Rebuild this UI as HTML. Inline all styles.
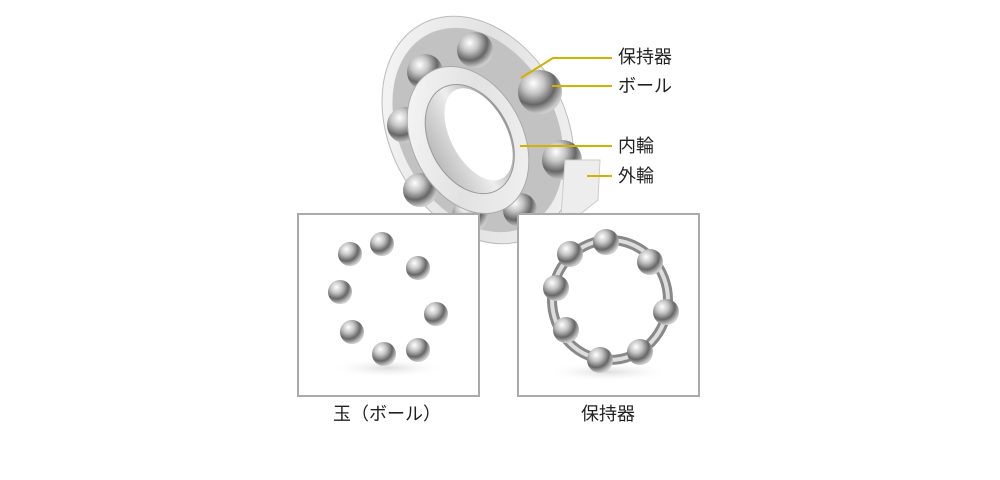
<!DOCTYPE html>
<html><head><meta charset="utf-8"><style>
body{margin:0;width:1000px;height:480px;background:#fff;overflow:hidden;position:relative;font-family:"Liberation Sans","Noto Sans CJK JP",sans-serif}
.t{position:absolute;font-size:18px;color:#222;line-height:1}
</style></head><body>
<svg width="1000" height="480" style="position:absolute;left:0;top:0">
<defs>
<radialGradient id="ball" cx="35%" cy="30%" r="70%"><stop offset="0" stop-color="#fff"/><stop offset="0.35" stop-color="#c4c4c4"/><stop offset="0.7" stop-color="#666"/><stop offset="1" stop-color="#ccc"/></radialGradient>
<linearGradient id="ring" x1="0" y1="0" x2="1" y2="1"><stop offset="0" stop-color="#fafafa"/><stop offset="0.5" stop-color="#e2e2e2"/><stop offset="1" stop-color="#f4f4f4"/></linearGradient>
<linearGradient id="bore" x1="0" y1="0" x2="1" y2="0"><stop offset="0" stop-color="#bbb"/><stop offset="0.5" stop-color="#eee"/><stop offset="1" stop-color="#999"/></linearGradient>
<radialGradient id="shadow" cx="50%" cy="50%" r="50%"><stop offset="0" stop-color="#ddd"/><stop offset="1" stop-color="#fff" stop-opacity="0"/></radialGradient>
</defs>
<g transform="rotate(-28 478 130)">
<ellipse cx="478" cy="130" rx="88" ry="120" fill="url(#ring)" stroke="#bbb"/>
<ellipse cx="478" cy="130" rx="78" ry="108" fill="#c2c2c2"/>
</g>
<g fill="url(#ball)">
<circle cx="475" cy="50" r="18"/><circle cx="425" cy="72" r="18"/><circle cx="405" cy="125" r="18"/>
<circle cx="420" cy="190" r="17"/><circle cx="470" cy="215" r="18"/><circle cx="520" cy="210" r="17"/>
<circle cx="540" cy="92" r="22"/><circle cx="562" cy="160" r="20"/>
</g>
<g transform="rotate(-28 468 140)">
<ellipse cx="468" cy="140" rx="55" ry="78" fill="url(#ring)" stroke="#aaa"/>
<ellipse cx="470" cy="140" rx="40" ry="58" fill="url(#bore)" stroke="#999"/>
<ellipse cx="480" cy="140" rx="28" ry="50" fill="#fff"/>
</g>
<path d="M565 160 L600 160 L598 200 L560 230 Z" fill="#ededed" stroke="#ccc"/>
<g stroke="#d4b000" stroke-width="2" fill="none">
<polyline points="521,78 553,58 612,58"/>
<line x1="552" y1="86" x2="612" y2="86"/>
<line x1="520" y1="146" x2="612" y2="146"/>
<line x1="587" y1="176" x2="612" y2="176"/>
</g>
<rect x="298" y="214" width="181" height="182" fill="#fff" stroke="#aaa" stroke-width="2"/>
<rect x="518" y="214" width="181" height="182" fill="#fff" stroke="#aaa" stroke-width="2"/>
<ellipse cx="388" cy="368" rx="60" ry="10" fill="url(#shadow)"/>
<g fill="url(#ball)">
<circle cx="350" cy="254" r="12"/><circle cx="382" cy="244" r="12"/><circle cx="418" cy="268" r="12"/>
<circle cx="340" cy="292" r="12"/><circle cx="436" cy="314" r="12"/><circle cx="352" cy="332" r="12"/>
<circle cx="384" cy="354" r="12"/><circle cx="418" cy="350" r="12"/>
</g>
<ellipse cx="608" cy="372" rx="65" ry="10" fill="url(#shadow)"/>
<ellipse cx="610" cy="300" rx="58" ry="60" fill="none" stroke="#888" stroke-width="10"/>
<ellipse cx="610" cy="300" rx="58" ry="60" fill="none" stroke="#ddd" stroke-width="4"/>
<g fill="url(#ball)">
<circle cx="606" cy="242" r="13"/><circle cx="650" cy="262" r="13"/><circle cx="666" cy="312" r="13"/>
<circle cx="640" cy="352" r="13"/><circle cx="600" cy="360" r="13"/><circle cx="566" cy="330" r="13"/>
<circle cx="556" cy="288" r="13"/><circle cx="570" cy="254" r="13"/>
</g>
</svg>
<div class="t" style="left:618px;top:48px">保持器</div>
<div class="t" style="left:618px;top:77px">ボール</div>
<div class="t" style="left:618px;top:137px">内輪</div>
<div class="t" style="left:618px;top:167px">外輪</div>
<div class="t" style="left:333px;top:405px">玉（ボール）</div>
<div class="t" style="left:581px;top:405px">保持器</div>
</body></html>
